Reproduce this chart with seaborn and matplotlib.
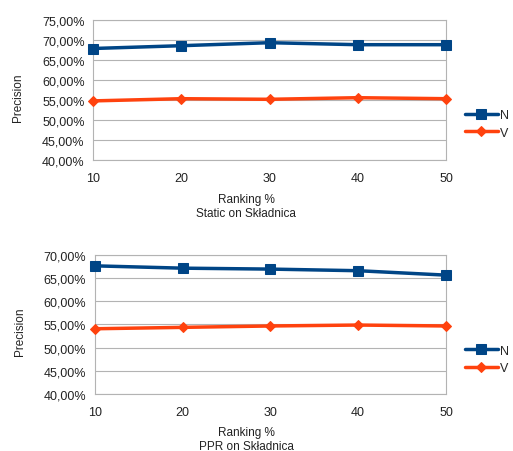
import matplotlib
matplotlib.use("Agg")
import matplotlib.pyplot as plt
import matplotlib.ticker as mticker
import seaborn as sns
import pandas as pd

ranking = [10, 20, 30, 40, 50]
static_n = [67.8, 68.5, 69.25, 68.75, 68.75]
static_v = [54.7, 55.25, 55.1, 55.5, 55.25]
ppr_n = [67.6, 67.1, 66.9, 66.55, 65.6]
ppr_v = [54.05, 54.35, 54.65, 54.85, 54.65]
series_names = ["N", "V"]
titles = ["Static on Składnica", "PPR on Składnica"]

sns.set_style("white")
plt.rcParams["font.family"] = ["Liberation Sans", "DejaVu Sans"]

palette = {"N": "#004586", "V": "#ff420e"}
markers = {"N": "s", "V": "D"}
sizes = {"N": 7.5, "V": 5.5}

fig = plt.figure(figsize=(5.13, 4.52), dpi=100)
axes_pos = [
    [93 / 513, 1 - 160.7 / 452, 353 / 513, 140 / 452],
    [94.7 / 513, 1 - 395 / 452, 351.3 / 513, 139.3 / 452],
]
ylims = [(40, 75), (40, 70)]
datasets = [(static_n, static_v), (ppr_n, ppr_v)]
legend_y = [(116 + 134) / 2, (351 + 370) / 2]
label_top = [194, 427]
ylabel_x = [18, 20]
ylabel_y = [98, 332]

for i in range(2):
    ax = fig.add_axes(axes_pos[i])
    n_vals, v_vals = datasets[i]
    df = pd.DataFrame({
        "Ranking": ranking * 2,
        "Precision": n_vals + v_vals,
        "Series": [series_names[0]] * 5 + [series_names[1]] * 5,
    })
    for s in series_names:
        sub = df[df["Series"] == s]
        sns.lineplot(data=sub, x="Ranking", y="Precision", ax=ax,
                     color=palette[s], marker=markers[s], markersize=sizes[s],
                     markeredgecolor=palette[s], linewidth=2.5, label=s,
                     clip_on=False, zorder=3)
    ax.set_xlim(10, 50)
    ax.set_ylim(*ylims[i])
    ax.set_xticks(ranking)
    ax.yaxis.set_major_locator(mticker.MultipleLocator(5))
    ax.yaxis.set_major_formatter(mticker.FuncFormatter(
        lambda v, p: f"{v:.2f}".replace(".", ",") + "%"))
    ax.grid(axis="y", color="#b3b3b3", linewidth=0.8)
    for sp in ax.spines.values():
        sp.set_color("#b3b3b3")
        sp.set_linewidth(0.8)
    ax.tick_params(axis="both", which="major", direction="out", length=4,
                   width=0.8, color="#b3b3b3", labelsize=9, labelcolor="#222222",
                   pad=2)
    ax.tick_params(axis="x", pad=5)
    ax.set_ylabel("Precision", fontsize=8.5, color="#222222")
    ax.set_xlabel("Ranking %\n" + titles[i], fontsize=8.5, color="#222222",
                  linespacing=1.2)
    pos = ax.get_position()
    W, H = 513, 452
    ax_left_px = pos.x0 * W
    ax_w_px = pos.width * W
    ax_top_px = (1 - pos.y1) * H
    ax_bottom_px = (1 - pos.y0) * H
    ax_h_px = pos.height * H
    xl = (246 - ax_left_px) / ax_w_px
    yl = -(label_top[i] - ax_bottom_px) / ax_h_px
    ax.xaxis.set_label_coords(xl, yl)
    ax.yaxis.label.set_va("center")
    ax.yaxis.set_label_coords((ylabel_x[i] - ax_left_px) / ax_w_px,
                              (ax_bottom_px - ylabel_y[i]) / ax_h_px)
    ax.legend(loc="center left",
              bbox_to_anchor=(465 / 513, 1 - legend_y[i] / 452),
              bbox_transform=fig.transFigure, frameon=False,
              fontsize=9, handlelength=2.6, handletextpad=0.2,
              labelspacing=0.45, borderpad=0, borderaxespad=0)

fig.savefig("out.png", dpi=100)
